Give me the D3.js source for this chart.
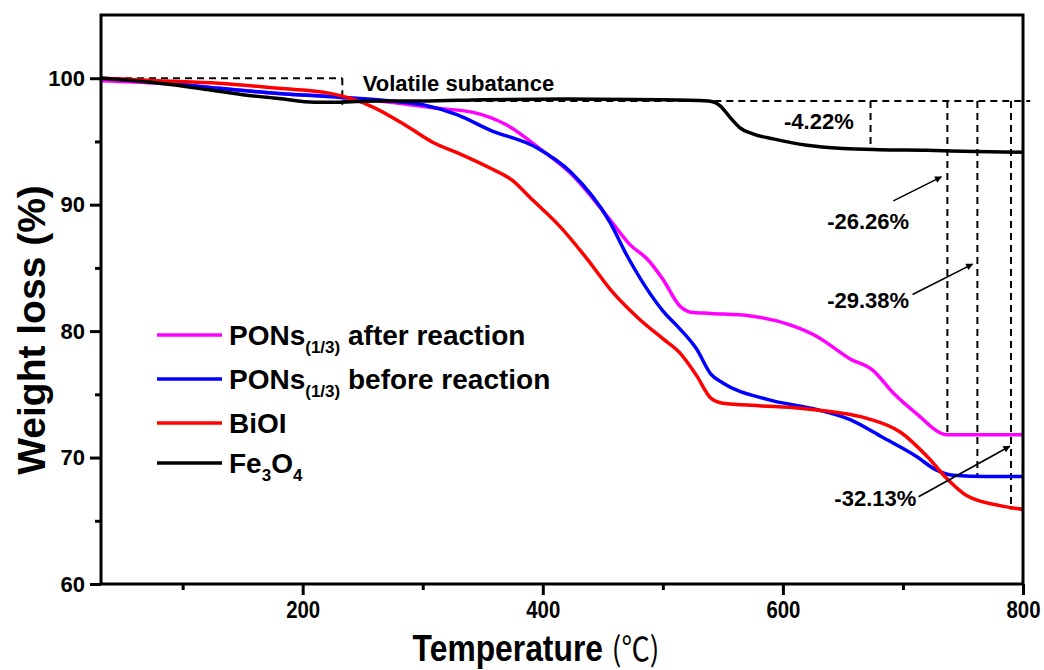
<!DOCTYPE html>
<html>
<head>
<meta charset="utf-8">
<script src="https://cdn.jsdelivr.net/npm/d3@7"></script>
<style>
  body { margin: 0; background: #fff; }
  text { font-family: "Liberation Sans", Arial, sans-serif; font-weight: bold; fill: #000; }
</style>
</head>
<body>
<div id="chart"></div>
<script>
// TGA data (temperature in ℃, weight in %)
const ponsAfter = [[32,99.8],[80,99.6],[130,99.2],[180,98.8],[231,98.5],[273,98.1],[314,97.6],[342,97.3],[370,96.3],[398,94.4],[423,92.5],[456,88.8],[473,86.8],[487,85.7],[500,84.1],[514,82.0],[523,81.5],[540,81.4],[573,81.2],[606,80.5],[628,79.6],[656,77.8],[675,76.9],[692,75.1],[711,73.5],[737,71.8],[770,71.8],[800,71.8]];
const ponsBefore = [[32,100],[80,99.7],[130,99.2],[180,98.8],[230,98.5],[273,98.2],[300,97.9],[329,97.1],[356,95.9],[395,94.5],[423,92.6],[456,88.6],[470,86.0],[487,83.3],[500,81.6],[514,80.2],[528,78.6],[540,76.6],[550,75.9],[587,74.6],[628,73.8],[656,73.0],[683,71.6],[711,70.1],[728,69.0],[742,68.6],[770,68.5],[800,68.5]];
const bioi = [[32,100],[80,99.8],[130,99.6],[180,99.2],[223,98.8],[240,98.4],[259,97.7],[287,96.2],[309,94.9],[329,94.1],[356,92.9],[375,91.9],[389,90.6],[414,88.3],[437,85.7],[458,83.1],[481,80.9],[500,79.4],[514,78.3],[528,76.5],[540,74.7],[550,74.3],[580,74.1],[614,73.9],[642,73.6],[670,73.1],[698,72.0],[720,70.1],[737,68.3],[753,67.0],[781,66.2],[800,65.9]];
const fe3o4 = [[32,100],[60,99.8],[90,99.5],[120,99.1],[150,98.7],[180,98.4],[210,98.1],[230,98.1],[260,98.2],[300,98.2],[350,98.3],[420,98.35],[500,98.3],[538,98.2],[548,97.8],[556,96.9],[564,96.1],[575,95.6],[592,95.2],[620,94.7],[650,94.45],[680,94.35],[720,94.3],[760,94.2],[800,94.15]];

const seriesNames = ["PONs|(1/3)| after reaction", "PONs|(1/3)| before reaction", "BiOI", "Fe|3|O|4"];
const seriesColors = ["#ff00ff", "#0000ff", "#ff0000", "#000000"];
const seriesData = [ponsAfter, ponsBefore, bioi, fe3o4];

const xMajor = [200, 400, 600, 800];
const xMinor = [100, 300, 500, 700];
const yMajor = [60, 70, 80, 90, 100];
const yMinor = [65, 75, 85, 95];

// dashed guide lines [x1,y1,x2,y2]
const guides = [[32,100,233,100],[233,100,233,97.9],[233,98.2,806,98.2],[673,98.2,673,94.3],[737,98.2,737,71.8],[762,98.2,762,68.5],[790,98.2,790,65.9]];
// arrows [x1,y1,x2,y2]
const arrows = [[692,90.3,732,92.2],[708,82.9,758,85.3],[713,66.9,789,70.9]];
// labels [text, x, y, anchor]
const notes = [["Volatile subatance",250,99.0,"start"],["-4.22%",630,96.0,"middle"],["-26.26%",671,88.1,"middle"],["-29.38%",671,81.8,"middle"],["-32.13%",677,66.2,"middle"]];

const W = 1044, H = 670;
const L = 101, R = 1023, T = 15, B = 584;

const svg = d3.select("#chart").append("svg")
  .attr("width", W).attr("height", H);

const x = d3.scaleLinear().domain([32, 800]).range([L, R]);
const y = d3.scaleLinear().domain([60, 105]).range([B, T]);

// arrow head
svg.append("defs").append("marker")
  .attr("id", "head").attr("viewBox", "0 0 10 10")
  .attr("refX", 9).attr("refY", 5)
  .attr("markerWidth", 10).attr("markerHeight", 7)
  .attr("markerUnits", "userSpaceOnUse")
  .attr("orient", "auto")
  .append("path").attr("d", "M0,0 L10,5 L0,10 Z").attr("fill", "#000");

// guides
svg.append("g").selectAll("line")
  .data(guides).enter().append("line")
  .attr("x1", d => x(d[0])).attr("y1", d => y(d[1]))
  .attr("x2", d => x(d[2])).attr("y2", d => y(d[3]))
  .attr("stroke", "#000").attr("stroke-width", 2)
  .attr("stroke-dasharray", "7,5");

// curves
const line = d3.line()
  .x(d => x(d[0])).y(d => y(d[1]))
  .curve(d3.curveMonotoneX);

svg.append("g").selectAll("path")
  .data(seriesData).enter().append("path")
  .attr("d", line)
  .attr("fill", "none")
  .attr("stroke", (d, i) => seriesColors[i])
  .attr("stroke-width", 3.5)
  .attr("stroke-linejoin", "round");

// arrows
svg.append("g").selectAll("line")
  .data(arrows).enter().append("line")
  .attr("x1", d => x(d[0])).attr("y1", d => y(d[1]))
  .attr("x2", d => x(d[2])).attr("y2", d => y(d[3]))
  .attr("stroke", "#000").attr("stroke-width", 1.6)
  .attr("marker-end", "url(#head)");

// notes
svg.append("g").selectAll("text")
  .data(notes).enter().append("text")
  .attr("x", d => x(d[1])).attr("y", d => y(d[2]))
  .attr("text-anchor", d => d[3])
  .style("font-size", "22px")
  .text(d => d[0]);

// axes
const xAxis = svg.append("g").attr("transform", `translate(0,${B})`)
  .call(d3.axisBottom(x).tickValues(xMajor).tickSize(11).tickSizeOuter(0).tickPadding(6));
svg.append("g").attr("transform", `translate(0,${B})`)
  .call(d3.axisBottom(x).tickValues(xMinor).tickSize(6).tickSizeOuter(0).tickFormat(""));
const yAxis = svg.append("g").attr("transform", `translate(${L},0)`)
  .call(d3.axisLeft(y).tickValues(yMajor).tickSize(11).tickSizeOuter(0).tickPadding(5));
svg.append("g").attr("transform", `translate(${L},0)`)
  .call(d3.axisLeft(y).tickValues(yMinor).tickSize(6).tickSizeOuter(0).tickFormat(""));

svg.selectAll(".domain").remove();
svg.selectAll(".tick line").attr("stroke", "#000").attr("stroke-width", 3);
xAxis.selectAll("text").style("font-size", "24px").attr("transform", "scale(0.85,1)");
yAxis.selectAll("text").style("font-size", "22px");

// frame
svg.append("rect")
  .attr("x", L).attr("y", T).attr("width", R - L).attr("height", B - T)
  .attr("fill", "none").attr("stroke", "#000").attr("stroke-width", 3);

// axis titles
const xt = svg.append("text")
  .attr("transform", "translate(536,661) scale(0.86,1)")
  .attr("text-anchor", "middle")
  .style("font-size", "37px");
xt.append("tspan").text("Temperature ");
xt.append("tspan").style("font-family", "Noto Sans CJK SC").style("font-weight", "normal").style("font-size", "33px").text("(℃)");

svg.append("text")
  .attr("transform", "translate(45,330) rotate(-90)")
  .attr("text-anchor", "middle")
  .style("font-size", "39px")
  .text("Weight loss (%)");

// legend
const legend = svg.append("g");
const rowY = [335, 379, 423, 463];
seriesNames.forEach((name, i) => {
  legend.append("line")
    .attr("x1", 157).attr("x2", 222)
    .attr("y1", rowY[i]).attr("y2", rowY[i])
    .attr("stroke", seriesColors[i]).attr("stroke-width", 3.5);
  const t = legend.append("text")
    .attr("x", 229).attr("y", rowY[i] + 10)
    .style("font-size", "28px");
  name.split("|").forEach((part, k) => {
    const sub = k % 2 === 1;
    t.append("tspan")
      .style("font-size", sub ? "17px" : "28px")
      .attr("dy", sub ? 8 : (k > 0 ? -8 : 0))
      .text(part);
  });
});
</script>
</body>
</html>
